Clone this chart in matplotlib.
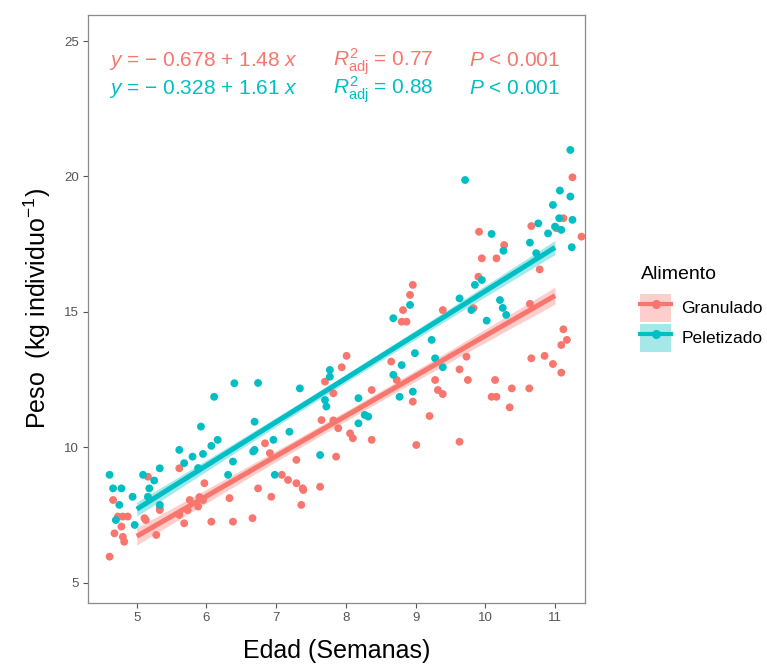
import numpy as np
import matplotlib
matplotlib.use("Agg")
import matplotlib.pyplot as plt
from matplotlib.lines import Line2D
from matplotlib.patches import Patch

plt.rcParams['font.family'] = ['Liberation Sans', 'DejaVu Sans']
plt.rcParams['mathtext.fontset'] = 'custom'
plt.rcParams['mathtext.rm'] = 'Liberation Sans'
plt.rcParams['mathtext.it'] = 'Liberation Sans:italic'
plt.rcParams['mathtext.bf'] = 'Liberation Sans:bold'

# ---------------- data ----------------
groups = ["Granulado", "Peletizado"]
colors = ["#F8766D", "#00BFC4"]

gran_x = [4.61, 4.82, 4.68, 4.78, 4.87, 4.73, 4.66, 5.13, 5.28, 5.16, 5.33, 5.61, 5.68, 5.61,
          5.73, 5.88, 5.95, 5.97, 6.07, 6.33, 6.38, 6.66, 6.74, 6.84, 6.91, 7.29, 7.86, 7.08,
          7.17, 7.29, 7.39, 7.63, 6.93, 7.36, 8.96, 8.92, 8.82, 8.80, 8.87, 8.01, 7.94, 7.70,
          7.82, 8.65, 8.37, 8.96, 9.01, 7.65, 7.89, 8.06, 8.10, 8.37, 8.73, 11.12, 11.17, 11.09,
          10.66, 10.85, 10.97, 11.09, 9.73, 9.63, 9.75, 10.14, 10.38, 10.63, 10.09, 10.16, 10.35,
          9.39, 9.83, 9.28, 9.32, 9.39, 9.20, 9.63, 11.25, 11.12, 11.02, 10.66, 11.38, 9.91,
          10.27, 9.95, 10.16, 9.90, 10.78, 10.64, 7.82, 4.80, 4.80, 5.11, 5.33, 5.76, 5.90, 7.38]
gran_y = [5.97, 6.52, 6.83, 7.08, 7.45, 7.45, 8.06, 7.32, 6.77, 8.92, 7.69, 9.23, 7.20, 7.51,
          7.69, 7.82, 8.06, 8.68, 7.26, 8.13, 7.26, 7.39, 8.49, 10.15, 9.79, 9.54, 9.66, 8.99,
          8.80, 8.68, 8.43, 8.55, 8.18, 7.88, 16.00, 15.63, 15.07, 14.64, 14.64, 13.38, 12.96, 12.43,
          12.00, 13.17, 12.12, 11.69, 10.09, 11.01, 10.71, 10.52, 10.34, 10.28, 12.49, 14.36, 13.97, 13.78,
          13.29, 13.38, 13.08, 12.76, 13.35, 12.88, 12.49, 12.49, 12.18, 12.18, 11.87, 11.87, 11.48,
          15.07, 15.14, 12.49, 12.12, 11.97, 11.16, 10.21, 19.97, 18.46, 18.09, 18.17, 17.78, 17.96,
          17.47, 16.98, 16.98, 16.30, 16.57, 15.30, 11.00, 6.70, 7.45, 7.39, 7.76, 8.06, 8.17, 8.49]

pele_x = [6.40, 6.74, 6.11, 5.92, 6.69, 6.16, 6.07, 5.61, 5.80, 5.95, 5.68, 5.88, 5.33, 4.61,
          5.09, 5.25, 4.66, 4.78, 4.94, 4.75, 5.18, 5.16, 5.33, 6.31, 6.38, 6.69, 4.70, 4.97,
          8.92, 8.68, 8.99, 8.80, 8.68, 8.96, 8.77, 7.77, 7.77, 7.34, 7.70, 7.72, 8.18, 8.27,
          8.32, 8.18, 7.19, 6.96, 6.67, 7.63, 6.98, 9.63, 10.21, 10.25, 10.30, 10.02, 9.23, 9.28,
          9.39, 11.22, 9.71, 11.07, 11.22, 10.97, 11.06, 11.25, 10.76, 11.00, 11.09, 10.90, 11.24,
          10.64, 10.73, 10.09, 10.26, 9.85, 9.95, 9.80]
pele_y = [12.37, 12.38, 11.87, 10.77, 10.95, 10.28, 10.06, 9.91, 9.66, 9.76, 9.42, 9.24, 9.23, 8.99,
          8.99, 8.78, 8.49, 8.49, 8.18, 7.88, 8.49, 8.18, 7.88, 8.99, 9.48, 9.91, 7.32, 7.14,
          15.26, 14.77, 13.48, 13.04, 12.68, 12.06, 11.87, 12.86, 12.61, 12.18, 11.75, 11.51, 11.82, 11.20,
          11.14, 10.89, 10.58, 10.28, 9.85, 9.72, 8.99, 15.50, 15.44, 15.15, 14.89, 14.68, 13.97, 13.29,
          12.96, 20.98, 19.87, 19.48, 19.26, 18.95, 18.46, 18.40, 18.27, 18.15, 18.03, 17.90, 17.39,
          17.56, 17.17, 17.88, 17.26, 16.00, 16.18, 15.07]

# fitted models shown in the chart
intercepts = [-0.678, -0.328]
slopes = [1.48, 1.61]
r2_adj = ["0.77", "0.88"]
p_text = ["0.001", "0.001"]
age_range = (5.0, 11.0)   # weeks (un-jittered ages used for the fit)

x_ticks = [5, 6, 7, 8, 9, 10, 11]
y_ticks = [5, 10, 15, 20, 25]

# ---------------- figure ----------------
fig = plt.figure(figsize=(7.67, 6.64), dpi=100)
ax = fig.add_axes([0.1147, 0.0919, 0.648, 0.8855])

xs_all = [gran_x, pele_x]
ys_all = [gran_y, pele_y]

grid = np.linspace(age_range[0], age_range[1], 100)
for gx, gy, a, b, c in zip(xs_all, ys_all, intercepts, slopes, colors):
    gx = np.asarray(gx); gy = np.asarray(gy)
    ax.scatter(gx, gy, s=32, color=c, edgecolors='none', zorder=3)
    n = len(gx)
    resid = gy - (a + b * gx)
    sigma = np.sqrt(np.sum(resid ** 2) / (n - 2))
    sxx = np.sum((gx - gx.mean()) ** 2)
    se = sigma * np.sqrt(1.0 / n + (grid - gx.mean()) ** 2 / sxx)
    fit = a + b * grid
    ax.fill_between(grid, fit - se, fit + se, color=c, alpha=0.35, lw=0, zorder=2)
    ax.plot(grid, fit, color=c, lw=3.6, zorder=4, solid_capstyle='butt')

ax.set_xlim(4.30, 11.43)
ax.set_ylim(4.26, 25.96)
ax.set_xticks(x_ticks)
ax.set_yticks(y_ticks)
ax.tick_params(axis='both', direction='out', length=3.5, width=0.8, color='#555555',
               labelcolor='#555555', labelsize=9.5, pad=3)
for sp in ax.spines.values():
    sp.set_color('#8a8a8a')
    sp.set_linewidth(0.9)

ax.set_xlabel("Edad (Semanas)", fontsize=18, labelpad=11)
ax.set_ylabel(r"Peso  (kg individuo$^{-1}$)", fontsize=18, labelpad=8)

# annotations
ann_y = [24.08, 23.04]
for i in range(2):
    c = colors[i]
    ax.text(4.60, ann_y[i], r"$y$ = $-$ %.3f + %.2f $x$" % (abs(intercepts[i]), slopes[i]),
            color=c, fontsize=15, va='baseline', ha='left')
    ax.text(7.81, ann_y[i], r"$R^{2}_{\mathrm{adj}}$ = " + r2_adj[i],
            color=c, fontsize=15, va='baseline', ha='left')
    ax.text(9.77, ann_y[i], r"$P$ < " + p_text[i],
            color=c, fontsize=15, va='baseline', ha='left')

# legend
handles = []
for c in colors:
    handles.append((Patch(facecolor=c, alpha=0.35, edgecolor='none'),
                    Line2D([], [], color=c, lw=3, marker='o', ms=5.5)))
leg = fig.legend(handles, groups, title="Alimento", loc='upper left',
                 bbox_to_anchor=(0.826, 0.61), frameon=False, fontsize=12.5,
                 title_fontsize=14, handlelength=1.75, handleheight=2.1,
                 labelspacing=0.12, handletextpad=0.6, alignment='left', borderaxespad=0)
leg._legend_box.sep = 8.0

fig.savefig("out.png", dpi=100)
